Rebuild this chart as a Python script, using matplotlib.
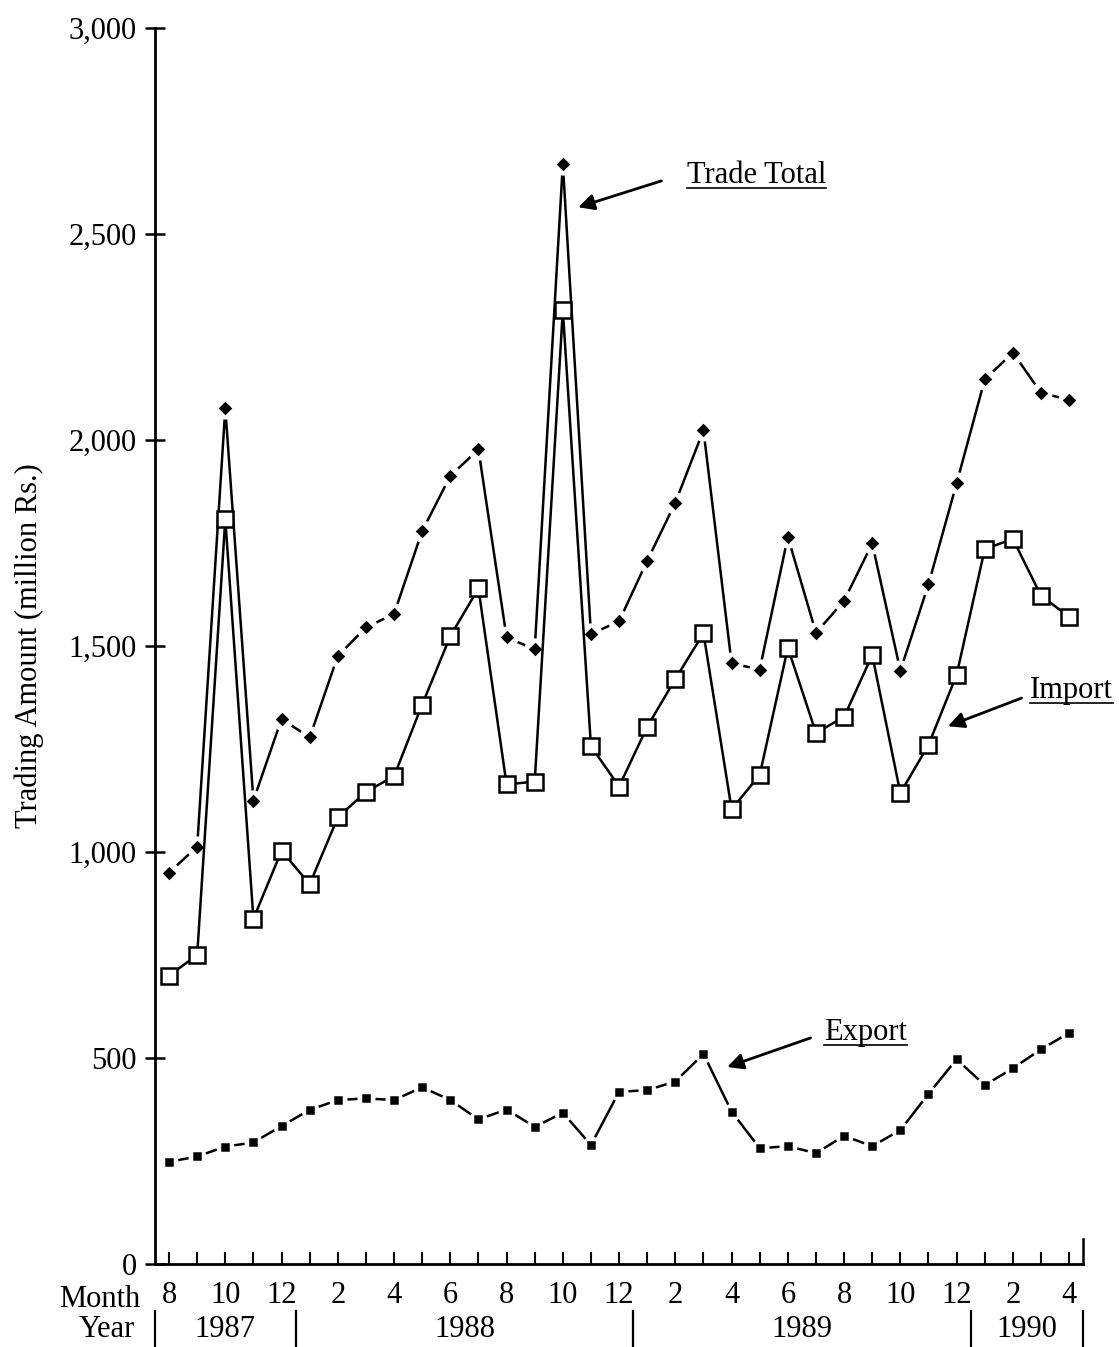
import numpy as np
import matplotlib.pyplot as plt

plt.rcParams['font.family'] = ['Liberation Serif', 'DejaVu Serif']

# Aug 1987 .. Apr 1990, one value per month (million Rs.)
months = [8, 9, 10, 11, 12,
          1, 2, 3, 4, 5, 6, 7, 8, 9, 10, 11, 12,
          1, 2, 3, 4, 5, 6, 7, 8, 9, 10, 11, 12,
          1, 2, 3, 4]
trade_total = [950, 1013, 2077, 1125, 1323, 1278, 1476, 1545, 1578, 1779, 1913, 1977,
               1521, 1492, 2670, 1529, 1560, 1707, 1848, 2024, 1458, 1443, 1765, 1532,
               1610, 1749, 1440, 1650, 1895, 2147, 2212, 2115, 2097]
imports = [700, 750, 1808, 838, 1003, 922, 1084, 1146, 1184, 1358, 1524, 1640,
           1164, 1171, 2315, 1257, 1159, 1304, 1420, 1531, 1104, 1187, 1496, 1289,
           1328, 1478, 1143, 1260, 1430, 1735, 1760, 1622, 1571]
exports = [248, 261, 285, 295, 335, 374, 398, 402, 398, 429, 398, 351,
           375, 333, 367, 289, 418, 422, 443, 510, 370, 281, 286, 269,
           311, 286, 325, 413, 497, 434, 475, 521, 561]
years = ['1987', '1988', '1989', '1990']
year_bounds = [-0.5, 4.5, 16.5, 28.5, 32.5]

x = np.arange(len(months))
FS = 22

fig = plt.figure(figsize=(11.19, 13.47), dpi=100)
ax = fig.add_axes([0.1385, 0.0616, 0.8295, 0.9176])

def halo_line(y, marker, ms, halo, face='black', lw=1.8):
    ax.plot(x, y, color='black', lw=lw, zorder=2)
    ax.plot(x, y, ls='none', marker='o', ms=halo, mfc='white', mec='white', zorder=3)
    ax.plot(x, y, ls='none', marker=marker, ms=ms, mfc=face, mec='black', mew=1.8, zorder=4)

halo_line(trade_total, 'D', 5, 15)
halo_line(exports, 's', 4.5, 12)
ax.plot(x, imports, color='black', lw=1.8, marker='s', ms=12, mfc='white',
        mec='black', mew=1.8, zorder=5)

ax.set_xlim(-0.5, 32.5)
ax.set_ylim(0, 3000)
for s in ['top', 'right']:
    ax.spines[s].set_visible(False)
ax.spines['left'].set_linewidth(2)
ax.spines['bottom'].set_linewidth(2)

ax.set_yticks(range(0, 3001, 500))
ax.set_yticklabels(['0', '500', '1,000', '1,500', '2,000', '2,500', '3,000'])
ax.tick_params(axis='y', direction='inout', length=14, width=1.8, labelsize=FS, pad=6)
ax.set_ylabel('Trading Amount (million Rs.)', fontsize=FS, labelpad=18)

ax.set_xticks(x, minor=True)
ax.set_xticks(x[::2])
ax.set_xticklabels([str(m) for m in months[::2]])
ax.tick_params(axis='x', which='both', direction='in', length=9, width=1.5,
               labelsize=FS, pad=12)
ax.plot([32.5, 32.5], [0, 60], color='black', lw=1.8, clip_on=False)

xt = ax.get_xaxis_transform()
ax.text(-2.45, -0.029, 'Month', transform=xt, ha='center', va='center', fontsize=FS)
ax.text(-2.2, -0.053, 'Year', transform=xt, ha='center', va='center', fontsize=FS)
for i, yr in enumerate(years):
    ax.text((year_bounds[i] + year_bounds[i + 1]) / 2, -0.053, yr, transform=xt,
            ha='center', va='center', fontsize=FS)
for b in year_bounds:
    ax.plot([b, b], [-0.038, -0.066], transform=xt, color='black', lw=1.6, clip_on=False)

notes = [('Trade Total', (18.4, 2643), (14.45, 2563), (17.6, 2631)),
         ('Import', (30.6, 1393), (27.6, 1303), (30.4, 1376)),
         ('Export', (23.3, 563), (19.75, 476), (22.9, 551))]
texts = []
for label, pos, tip, tail in notes:
    t = ax.text(pos[0], pos[1], label, fontsize=FS, ha='left', va='center')
    texts.append(t)
    ax.annotate('', xy=tip, xytext=tail,
                arrowprops=dict(arrowstyle='-|>', color='black', lw=2, mutation_scale=24))

fig.canvas.draw()
r = fig.canvas.get_renderer()
for t in texts:
    bb = t.get_window_extent(renderer=r).transformed(fig.transFigure.inverted())
    fig.add_artist(plt.Line2D([bb.x0, bb.x1], [bb.y0 + 0.001, bb.y0 + 0.001],
                              color='black', lw=1.2, transform=fig.transFigure))

fig.savefig('out.png', dpi=100)
